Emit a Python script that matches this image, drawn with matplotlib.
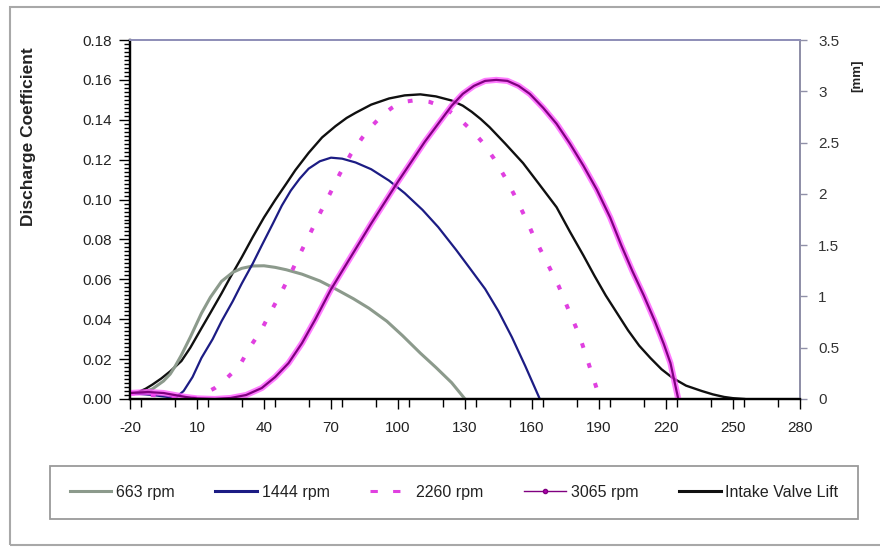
import matplotlib
matplotlib.use("Agg")
import matplotlib.pyplot as plt
import matplotlib.patheffects as pe
from matplotlib.lines import Line2D
from matplotlib.patches import Rectangle
from matplotlib.ticker import MultipleLocator, FixedLocator

plt.rcParams['font.family'] = ['Liberation Sans', 'DejaVu Sans']

# ---------------- data ----------------
x_ticks = [-20, 10, 40, 70, 100, 130, 160, 190, 220, 250, 280]
y_left_ticks = [0.00, 0.02, 0.04, 0.06, 0.08, 0.10, 0.12, 0.14, 0.16, 0.18]
y_right_ticks = [0, 0.5, 1, 1.5, 2, 2.5, 3, 3.5]
y_right_labels = ["0", "0.5", "1", "1.5", "2", "2.5", "3", "3.5"]

rpm663_deg = [-20, -15, -10, -5, -2, 0, 3, 7, 12, 16, 21, 26, 30, 35, 40, 45, 50, 57,
              65, 72, 80, 87, 95, 102, 110, 117, 124, 130]
rpm663_cd = [0.003, 0.003, 0.005, 0.009, 0.0125, 0.016, 0.022, 0.031, 0.043, 0.051,
             0.059, 0.0635, 0.0655, 0.0667, 0.0668, 0.0660, 0.0648, 0.0626, 0.0592,
             0.0552, 0.0503, 0.0455, 0.0390, 0.0318, 0.0230, 0.0158, 0.0082, 0.0]

rpm1444_deg = [-20, -10, -3, 1, 4, 8, 12, 17, 21, 26, 30, 35, 39, 44, 48, 52, 56, 60,
               65, 70, 75, 81, 88, 96, 103, 111, 118, 126, 132, 139, 145, 151, 157, 163.5]
rpm1444_cd = [0.003, 0.002, 0.001, 0.0012, 0.004, 0.011, 0.0206, 0.030, 0.039, 0.049,
              0.0578, 0.068, 0.077, 0.088, 0.097, 0.1045, 0.1105, 0.1155, 0.1192, 0.121,
              0.1205, 0.1186, 0.1152, 0.1095, 0.1032, 0.0948, 0.0862, 0.0748, 0.0658,
              0.0552, 0.0440, 0.0310, 0.0165, 0.0]

rpm2260_deg = [-20, -10, 0, 5, 10, 13, 18, 22, 29, 33.5, 39, 43.5, 48, 52, 56, 60, 65,
               70, 74, 79, 84, 88, 91, 94, 97, 100, 104, 107, 110, 114, 117, 120, 124,
               127, 130, 134, 138, 143, 148, 152, 157, 161, 166, 172, 177, 181, 184,
               187, 190.5]
rpm2260_cd = [0.003, 0.002, 0.001, 0.0003, 0.0005, 0.0025, 0.0055, 0.009, 0.0166,
              0.0256, 0.035, 0.0447, 0.054, 0.063, 0.0725, 0.0815, 0.0930, 0.1040,
              0.1130, 0.1230, 0.1310, 0.1365, 0.1400, 0.1432, 0.1458, 0.1478, 0.1492,
              0.1497, 0.1497, 0.1490, 0.1478, 0.1462, 0.1435, 0.1410, 0.1378, 0.1335,
              0.1285, 0.1205, 0.1110, 0.1025, 0.0910, 0.0810, 0.0700, 0.0565, 0.0430,
              0.0325, 0.0225, 0.0120, 0.0]

rpm3065_deg = [-20, -12, -5, 0, 5, 10, 18, 25, 32, 39, 45, 51, 57, 63, 70, 76, 82, 88,
               94, 100, 106, 112, 118, 124, 129, 134, 139, 144, 149, 154, 159, 165, 171,
               177, 183, 189, 195, 200, 205, 210, 215, 219, 222, 225.5]
rpm3065_cd = [0.003, 0.0035, 0.003, 0.002, 0.001, 0.0003, 0.0, 0.0005, 0.002, 0.0055,
              0.011, 0.018, 0.028, 0.040, 0.055, 0.066, 0.077, 0.088, 0.0985, 0.109,
              0.119, 0.129, 0.138, 0.147, 0.153, 0.157, 0.1595, 0.160, 0.1595, 0.157,
              0.153, 0.146, 0.138, 0.128, 0.117, 0.105, 0.091, 0.077, 0.064, 0.052,
              0.039, 0.0276, 0.018, 0.0]

lift_deg = [-20, -16, -13, -10, -6, -2, 3, 7, 12, 16, 21, 25, 30, 35, 40, 45, 50, 54,
            60, 66, 72, 77, 81, 88, 96, 103, 110, 117, 124, 129, 133, 137, 141, 148,
            156, 163, 171, 177, 183, 188, 193, 198, 203, 208, 213, 218, 223, 229, 236,
            241, 246, 250, 255]
lift_mm = [0.05, 0.07, 0.10, 0.14, 0.20, 0.27, 0.37, 0.50, 0.69, 0.84, 1.03, 1.19,
           1.38, 1.58, 1.77, 1.94, 2.10, 2.23, 2.40, 2.55, 2.66, 2.74, 2.79, 2.87,
           2.93, 2.96, 2.97, 2.95, 2.91, 2.86, 2.80, 2.73, 2.65, 2.49, 2.30, 2.10,
           1.87, 1.63, 1.40, 1.20, 1.01, 0.84, 0.67, 0.52, 0.40, 0.29, 0.205, 0.13,
           0.078, 0.045, 0.02, 0.008, 0.0]

labels = ["663 rpm", "1444 rpm", "2260 rpm", "3065 rpm", "Intake Valve Lift"]

# ---------------- styles ----------------
c663 = '#8c9a8c'
c1444 = '#1c1c84'
c2260 = '#e040e0'
c3065 = '#800080'
c3065_halo = '#ff50ff'
clift = '#101010'

W, H = 880, 549
fig = plt.figure(figsize=(W / 100, H / 100), dpi=100)
fig.patch.set_facecolor('white')

# outer frame (right edge runs off the picture)
fig.patches.append(Rectangle((10 / W, 1 - 545 / H), (900 - 10) / W, (545 - 7) / H,
                             transform=fig.transFigure, fill=False,
                             edgecolor='#a8a8a8', linewidth=1.5))

ax = fig.add_axes([130 / W, 1 - 399 / H, 670 / W, 359 / H])
ax2 = ax.twinx()
ax.set_zorder(ax2.get_zorder() + 1)
ax.patch.set_visible(False)

ax.plot(rpm663_deg, rpm663_cd, color=c663, lw=2.2, solid_joinstyle='round')
ax.plot(rpm1444_deg, rpm1444_cd, color=c1444, lw=1.6, solid_joinstyle='round')
ax.plot(rpm2260_deg, rpm2260_cd, color=c2260, lw=2.9, linestyle=(0, (1.2, 4.0)))
ax.plot(rpm3065_deg, rpm3065_cd, color=c3065, lw=1.6, solid_joinstyle='round',
        path_effects=[pe.Stroke(linewidth=4.4, foreground=c3065_halo, alpha=0.75),
                      pe.Normal()])
ax2.plot(lift_deg, lift_mm, color=clift, lw=1.7, solid_joinstyle='round')

ax.set_xlim(-20, 280)
ax.set_ylim(0, 0.18)
ax2.set_ylim(0, 3.5)

ax.xaxis.set_major_locator(FixedLocator(x_ticks))
ax.set_xticklabels([str(v) for v in x_ticks])
ax.xaxis.set_minor_locator(MultipleLocator(15))
ax.yaxis.set_major_locator(FixedLocator(y_left_ticks))
ax.set_yticklabels([f"{v:.2f}" for v in y_left_ticks])
ax.yaxis.set_minor_locator(MultipleLocator(0.002))
ax2.yaxis.set_major_locator(FixedLocator(y_right_ticks))
ax2.set_yticklabels(y_right_labels)

tick_fs = 11
ax.tick_params(axis='x', which='major', direction='out', length=7, width=1.0,
               pad=9, labelsize=tick_fs, labelcolor='#222222', top=False)
ax.tick_params(axis='x', which='minor', direction='out', length=6, width=1.0, top=False)
ax.tick_params(axis='y', which='major', direction='out', length=8, width=1.0,
               pad=5, labelsize=tick_fs, labelcolor='#222222', right=False)
ax.tick_params(axis='y', which='minor', direction='out', length=4, width=1.0, right=False)
ax2.tick_params(axis='y', which='major', direction='out', length=5, width=1.0,
                color='#9090a8', pad=8, labelsize=tick_fs, labelcolor='#333333')

for a in (ax, ax2):
    a.spines['left'].set_color('black')
    a.spines['bottom'].set_color('black')
    a.spines['top'].set_color('#9090b8')
    a.spines['right'].set_color('#9090a8')
    a.spines['left'].set_linewidth(1.6)
    a.spines['bottom'].set_linewidth(1.6)
    a.spines['top'].set_linewidth(1.4)
    a.spines['right'].set_linewidth(1.4)

fig.text(29 / W, 1 - 137 / H, "Discharge Coefficient", rotation=90, ha='center',
         va='center', fontsize=12.5, fontweight='bold', color='#222222')
fig.text(857 / W, 1 - 76 / H, "[mm]", rotation=90, ha='center', va='center',
         fontsize=9.5, fontweight='bold', color='#222222')

handles = [
    Line2D([], [], color=c663, lw=2.2),
    Line2D([], [], color=c1444, lw=2.2),
    Line2D([], [], color=c2260, lw=2.2, linestyle=(0, (2.4, 5.0))),
    Line2D([], [], color=c3065, lw=1.0, marker='o', markersize=3,
           markerfacecolor='#b000b0', markeredgecolor=c3065),
    Line2D([], [], color=clift, lw=2.2),
]
leg = fig.legend(handles, labels, loc='center', bbox_to_anchor=(454 / W, 1 - 492.5 / H),
                 ncol=5, fontsize=11.5, frameon=True, fancybox=False,
                 handlelength=2.6, handletextpad=0.3, columnspacing=2.55,
                 borderpad=1.2, borderaxespad=0)
leg.get_frame().set_edgecolor('#808080')
leg.get_frame().set_linewidth(1.3)
for t in leg.get_texts():
    t.set_color('#222222')

fig.savefig("out.png", dpi=100)
